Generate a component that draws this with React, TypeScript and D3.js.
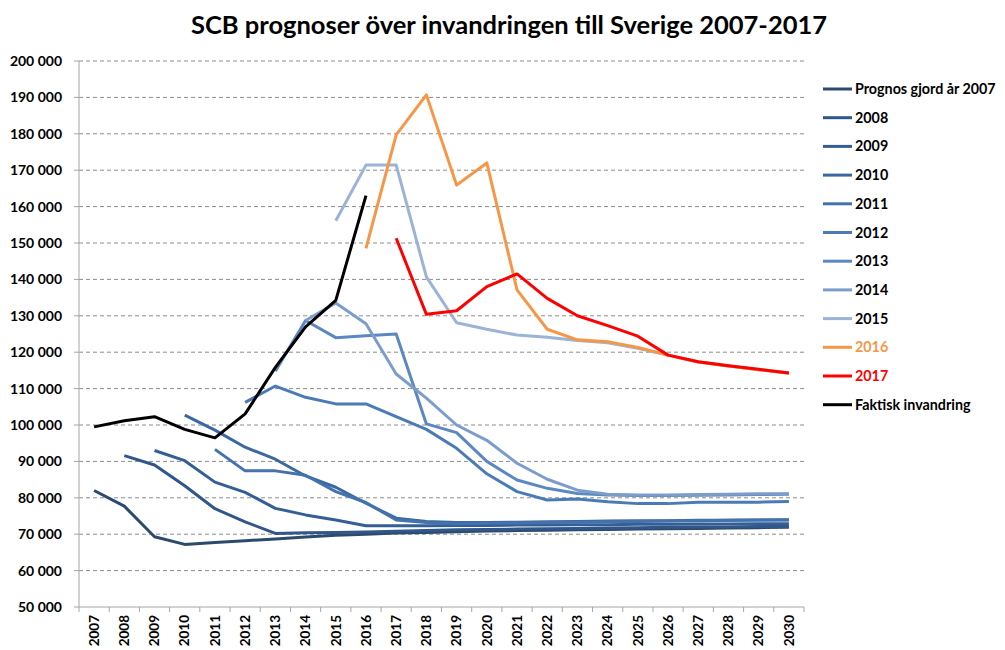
import * as d3 from 'd3';

const years = d3.range(2007, 2031).map(String);
const yTicks = d3.range(50000, 200001, 10000);

type V = number | null;
const _ = null;

const p2007: V[] = [82000, 77700, 69300, 67200, 67700, 68200, 68700, 69200, 69700, 70000, 70300, 70500, 70700, 70900, 71000, 71100, 71200, 71300, 71400, 71500, 71600, 71700, 71800, 71900];
const p2008: V[] = [_, 91600, 89000, 83300, 77000, 73400, 70200, 70400, 70500, 70600, 70800, 71000, 71200, 71300, 71400, 71500, 71600, 71700, 71800, 71900, 72000, 72000, 72100, 72100];
const p2009: V[] = [_, _, 93000, 90200, 84300, 81500, 77100, 75300, 73900, 72300, 72300, 72300, 72400, 72400, 72500, 72500, 72600, 72600, 72700, 72700, 72800, 72800, 72900, 72900];
const p2010: V[] = [_, _, _, 102700, 98600, 93900, 90600, 86000, 82900, 78500, 74400, 73500, 73200, 73200, 73300, 73400, 73500, 73600, 73700, 73700, 73800, 73800, 73900, 73900];
const p2011: V[] = [_, _, _, _, 93300, 87400, 87400, 86200, 81700, 78700, 73900, 73200, 72900, 73000, 73100, 73200, 73300, 73400, 73500, 73600, 73700, 73800, 73900, 74000];
const p2012: V[] = [_, _, _, _, _, 106200, 110700, 107600, 105800, 105800, 102300, 98800, 93600, 86600, 81700, 79400, 79700, 78900, 78400, 78400, 78800, 78800, 78800, 79000];
const p2013: V[] = [_, _, _, _, _, _, 114800, 128700, 124000, 124500, 125000, 100300, 97900, 90000, 84900, 82600, 81200, 80800, 80600, 80600, 80700, 80800, 80900, 81000];
const p2014: V[] = [_, _, _, _, _, _, _, 128700, 133500, 127800, 114000, 107400, 100000, 95800, 89500, 85100, 82100, 81000, 80800, 80800, 80900, 81000, 81100, 81100];
const p2015: V[] = [_, _, _, _, _, _, _, _, 156100, 171400, 171400, 140700, 128100, 126300, 124700, 124100, 123200, 122600, 121100, 119200, 117300, 116200, 115200, 114300];
const p2016: V[] = [_, _, _, _, _, _, _, _, _, 148500, 179700, 190700, 165900, 172000, 137100, 126300, 123400, 122900, 121300, 119200, 117300, 116200, 115200, 114200];
const p2017: V[] = [_, _, _, _, _, _, _, _, _, _, 151300, 130400, 131400, 138000, 141500, 134800, 130000, 127300, 124400, 119200, 117400, 116300, 115300, 114300];
const faktisk: V[] = [99485, 101171, 102280, 98801, 96467, 103059, 115845, 126966, 134240, 163005];

const seriesNames = ['Prognos gjord år 2007', '2008', '2009', '2010', '2011', '2012', '2013', '2014', '2015', '2016', '2017', 'Faktisk invandring'];
const seriesValues = [p2007, p2008, p2009, p2010, p2011, p2012, p2013, p2014, p2015, p2016, p2017, faktisk];
const seriesColors = ['#2c4a6e', '#30568a', '#345f96', '#3b68a3', '#4372ad', '#4a7bb7', '#5b88c0', '#7c9dcb', '#9bb3d6', '#f79646', '#ff0000', '#000000'];

const font = 'Lato, "Open Sans", sans-serif';

export default function App() {
  const left = 79;
  const right = 804;
  const top = 61;
  const bottom = 607;

  const x = d3.scaleBand<string>().domain(years).range([left, right]);
  const y = d3.scaleLinear().domain([50000, 200000]).range([bottom, top]);
  const fmt = (v: number) => d3.format(',')(v).replace(/,/g, ' ');

  const line = d3
    .line<V>()
    .defined((d) => d !== null)
    .x((_d, i) => (x(years[i]) ?? 0) + x.bandwidth() / 2)
    .y((d) => y(d as number));

  return (
    <svg width={1005} height={650} style={{ position: 'absolute', left: 0, top: 0, background: '#fff' }} fontFamily={font}>
      <text x={509} y={34} textAnchor="middle" fontSize={25.5} fontWeight="bold" fill="#000">
        SCB prognoser över invandringen till Sverige 2007-2017
      </text>

      {yTicks.map((t) => (
        <g key={t}>
          {t > 50000 && (
            <line x1={left} x2={right} y1={y(t)} y2={y(t)} stroke="#8c8c8c" strokeWidth={1} strokeDasharray="4,3" />
          )}
          <line x1={left - 5} x2={left} y1={y(t)} y2={y(t)} stroke="#a6a6a6" />
          <text x={62} y={y(t)} dy="0.35em" textAnchor="end" fontSize={14} fontWeight="bold" fill="#000">
            {fmt(t)}
          </text>
        </g>
      ))}
      <line x1={left} x2={left} y1={top} y2={bottom} stroke="#a6a6a6" />
      <line x1={left} x2={right} y1={bottom} y2={bottom} stroke="#a6a6a6" />
      {years.map((yr) => (
        <line key={'t' + yr} x1={x(yr)!} x2={x(yr)!} y1={bottom} y2={bottom + 5} stroke="#a6a6a6" />
      ))}
      <line x1={right} x2={right} y1={bottom} y2={bottom + 5} stroke="#a6a6a6" />
      {years.map((yr) => {
        const cx = x(yr)! + x.bandwidth() / 2;
        return (
          <text
            key={'l' + yr}
            transform={`translate(${cx},${bottom + 8}) rotate(-90)`}
            dy="0.35em"
            textAnchor="end"
            fontSize={13.5}
            fontWeight="bold"
            fill="#000"
          >
            {yr}
          </text>
        );
      })}

      {seriesValues.map((vals, i) => (
        <path
          key={seriesNames[i]}
          d={line(vals) ?? ''}
          fill="none"
          stroke={seriesColors[i]}
          strokeWidth={3}
          strokeLinejoin="round"
        />
      ))}

      {seriesNames.map((name, i) => {
        const ly = 89 + i * 28.7;
        const isColored = i === 9 || i === 10;
        return (
          <g key={'lg' + name}>
            <line x1={823} x2={852} y1={ly} y2={ly} stroke={seriesColors[i]} strokeWidth={3} />
            <text x={855} y={ly} dy="0.35em" fontSize={14.3} fontWeight="bold" fill={isColored ? seriesColors[i] : '#000'}>
              {name}
            </text>
          </g>
        );
      })}
    </svg>
  );
}
